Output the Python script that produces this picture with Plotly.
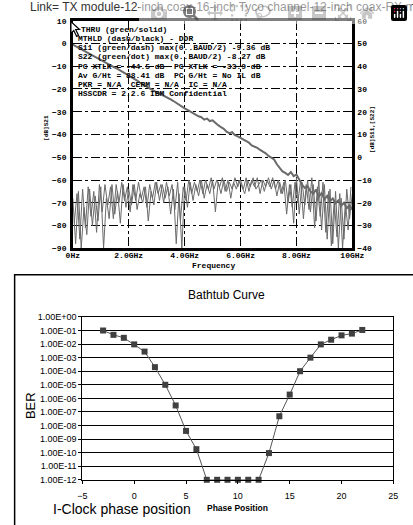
import numpy as np
import plotly.graph_objects as go

W, H = 413, 525

# ---------------- top chart data (S-parameters) ----------------
freq_s21 = np.round(np.arange(0, 10.01, 0.1), 2)
s21_db = [-0.5, -1.2, -1.8, -2.5, -3.3, -4.0, -4.6, -5.3, -5.9, -6.7,
          -7.3, -8.1, -8.7, -9.4, -9.9, -10.6, -11.2, -11.9, -12.6, -13.4,
          -14.2, -15.0, -15.7, -16.3, -17.2, -17.8, -18.6, -19.4, -20.2, -20.8,
          -21.5, -22.0, -22.6, -23.1, -23.8, -24.6, -25.3, -26.2, -27.0, -27.8,
          -28.5, -29.2, -29.9, -30.6, -31.5, -32.0, -32.4, -33.5, -33.0, -34.1,
          -33.8, -35.0, -35.9, -36.8, -37.5, -38.8, -39.4, -39.0, -40.3, -40.8,
          -41.5, -42.4, -43.0, -43.6, -44.8, -45.2, -45.9, -46.8, -47.5, -48.3,
          -49.4, -50.2, -51.0, -53.1, -54.6, -56.2, -56.9, -57.8, -56.5, -58.3,
          -57.6, -60.1, -62.0, -63.5, -62.8, -64.9, -66.0, -64.2, -67.3, -65.8,
          -68.5, -67.0, -69.4, -68.1, -70.2, -69.0, -71.3, -70.0, -72.4, -71.1,
          -73.0]

freq_s11 = np.round(np.arange(0, 10.01, 0.1), 2)
s11_db = [-18, -38, -15, -40, -22, -34, -14, -30, -17, -28,
          -13, -40, -18, -27, -12, -25, -15, -29, -12, -22,
          -14, -21, -12, -23, -16, -20, -13, -28, -15, -21,
          -11, -19, -12, -18, -13, -25, -14, -38, -16, -40,
          -13, -22, -11, -19, -12, -17, -10, -18, -12, -16,
          -10, -24, -11, -16, -10, -15, -11, -14, -9, -13,
          -10, -14, -9, -15, -10, -13, -9, -16, -10, -13,
          -9, -14, -10, -17, -11, -16, -10, -20, -12, -29,
          -9, -25, -11, -21, -10, -24, -12, -28, -10, -32,
          -12, -36, -14, -38, -15, -40, -18, -36, -14, -27,
          -16]

freq_s22 = np.round(np.arange(0.05, 10.0, 0.1), 2)
s22_db = [-29, -16, -36, -14, -31, -13, -26, -15, -33, -12,
          -24, -12, -21, -13, -27, -12, -20, -11, -19, -13,
          -24, -12, -19, -11, -18, -13, -22, -12, -18, -11,
          -16, -12, -20, -11, -17, -12, -23, -11, -28, -13,
          -19, -10, -16, -11, -15, -10, -16, -10, -14, -9,
          -14, -10, -13, -9, -15, -10, -18, -11, -14, -10,
          -13, -16, -10, -13, -9, -14, -12, -10, -15, -10,
          -13, -9, -14, -10, -16, -11, -25, -12, -22, -11,
          -20, -10, -27, -12, -23, -9, -31, -13, -26, -11,
          -33, -15, -39, -19, -35, -16, -40, -20, -32, -13]

freq_tickvals = [0, 2, 4, 6, 8, 10]
freq_ticktext = ["0Hz", "2.0GHz", "4.0GHz", "6.0GHz", "8.0GHz", "10GHz"]
left_ticks = [10, 0, -10, -20, -30, -40, -50, -60, -70, -80, -90]
right_ticks = [60, 50, 40, 30, 20, 10, 0, -10, -20, -30, -40]

legend_lines = [
    "THRU (green/solid)",
    "MTHLD (dash/black) - DDR",
    "S11 (green/dash) max(0..BAUD/2) -9.36 dB",
    "S22 (green/dot) max(0..BAUD/2) -8.27 dB",
    "PC XTLK = -44.5 dB  PC XTLK = -33.9 dB",
    "Av G/Ht = 88.41 dB  PC G/Ht = No IL dB",
    "PKR = N/A  CERM = N/A  IC = N/A",
    "HSSCDR = 2.2.6 IBM Confidential",
]

# ---------------- bottom chart data (bathtub) ----------------
phase = [-3, -2, -1, 0, 1, 2, 3, 4, 5, 6, 7, 8, 9, 10, 11, 12,
         13, 14, 15, 16, 17, 18, 19, 20, 21, 22]
ber = [1.0e-1, 4.8e-2, 2.9e-2, 9.5e-3, 2.8e-3, 2.0e-4, 1.0e-5, 3.0e-7,
       4.0e-9, 1.8e-10, 1e-12, 1e-12, 1e-12, 1e-12, 1e-12, 1e-12,
       9.3e-11, 4.8e-8, 1.9e-6, 1.0e-4, 1.0e-3, 9.5e-3, 2.1e-2, 4.4e-2,
       5.9e-2, 1.1e-1]
ber_tickvals = [1e0, 1e-1, 1e-2, 1e-3, 1e-4, 1e-5, 1e-6, 1e-7, 1e-8,
                1e-9, 1e-10, 1e-11, 1e-12]
ber_ticktext = ["1.00E+00", "1.00E-01", "1.00E-02", "1.00E-03", "1.00E-04",
                "1.00E-05", "1.00E-06", "1.00E-07", "1.00E-08", "1.00E-09",
                "1.00E-10", "1.00E-11", "1.00E-12"]
phase_ticks = [-5, 0, 5, 10, 15, 20, 25]


def px(x):
    return x / W


def py(y):
    return 1 - y / H


MONO = "Liberation Mono"
SANS = "Liberation Sans"

fig = go.Figure()

# noise traces (right axis)
fig.add_trace(go.Scatter(x=freq_s11, y=s11_db, mode="lines",
                         line=dict(color="#6a6a6a", width=1),
                         xaxis="x", yaxis="y2", showlegend=False))
fig.add_trace(go.Scatter(x=freq_s22, y=s22_db, mode="lines",
                         line=dict(color="#6a6a6a", width=1),
                         xaxis="x", yaxis="y2", showlegend=False))
# S21 (left axis)
fig.add_trace(go.Scatter(x=freq_s21, y=s21_db, mode="lines",
                         line=dict(color="#6a6a6a", width=2),
                         xaxis="x", yaxis="y", showlegend=False))

# bathtub
fig.add_trace(go.Scatter(x=phase, y=ber, mode="lines+markers",
                         line=dict(color="#555555", width=1),
                         marker=dict(symbol="square", size=6, color="#404040",
                                     line=dict(color="#404040", width=0)),
                         cliponaxis=False,
                         xaxis="x3", yaxis="y3", showlegend=False))

tick_font_top = dict(family=MONO, size=8, color="black", weight="bold")

fig.update_layout(
    width=W, height=H,
    margin=dict(l=0, r=0, t=0, b=0),
    paper_bgcolor="white", plot_bgcolor="white",
    xaxis=dict(domain=[px(69), px(362)], range=[0, 10], anchor="y",
               tickvals=freq_tickvals, ticktext=freq_ticktext,
               tickfont=tick_font_top, ticks="", ticklabelstandoff=-3,
               showgrid=True, gridcolor="black", gridwidth=1, griddash="dashdot",
               showline=True, linecolor="black", linewidth=2.5, mirror=True,
               zeroline=False),
    yaxis=dict(domain=[py(248), py(16)], range=[-90, 10], anchor="x",
               tickvals=left_ticks, tickfont=tick_font_top, ticks="",
               ticklabelstandoff=2,
               showgrid=True, gridcolor="black", gridwidth=1, griddash="dashdot",
               showline=True, linecolor="black", linewidth=2.5, mirror=True,
               zeroline=False),
    yaxis2=dict(range=[-40, 60], overlaying="y", side="right", anchor="x",
                tickvals=right_ticks, tickfont=tick_font_top, ticks="",
                ticklabelstandoff=4, showgrid=False, zeroline=False,
                showline=False),
    xaxis3=dict(domain=[px(79), px(405)], range=[-5, 25], anchor="y3",
                tickvals=phase_ticks,
                tickfont=dict(family=SANS, size=9, color="black"),
                ticks="outside", ticklen=3, tickcolor="black",
                ticklabelstandoff=4,
                showgrid=False, zeroline=False,
                showline=True, linecolor="black", linewidth=1, mirror=True),
    yaxis3=dict(domain=[py(484), py(318)], type="log", range=[-12, 0],
                anchor="x3", tickvals=ber_tickvals, ticktext=ber_ticktext,
                tickfont=dict(family=SANS, size=9, color="black"),
                ticks="outside", ticklen=3, tickcolor="black",
                showgrid=True, gridcolor="black", gridwidth=1,
                zeroline=False,
                showline=True, linecolor="black", linewidth=1, mirror=True),
)

annotations = []
# clipped title line at the very top
annotations.append(dict(xref="paper", yref="paper", x=px(22), y=py(2.5),
                        xanchor="left", yanchor="middle", showarrow=False,
                        text="Link= TX module-12-inch coax-16-inch Tyco channel-12-inch coax-RX module",
                        font=dict(family=SANS, size=12, color="#333333")))
# legend text block inside top plot
for i, line in enumerate(legend_lines):
    annotations.append(dict(xref="paper", yref="paper",
                            x=px(72 if i else 75), y=py(25 + i * 9.3),
                            xanchor="left", yanchor="middle", showarrow=False,
                            text=line,
                            font=dict(family=MONO, size=8, color="black",
                                      weight="bold")))
annotations.append(dict(xref="paper", yref="paper", x=px(216), y=py(266),
                        xanchor="center", yanchor="middle", showarrow=False,
                        text="Frequency",
                        font=dict(family=MONO, size=8, color="black", weight="bold")))
annotations.append(dict(xref="paper", yref="paper", x=px(42), y=py(125),
                        xanchor="center", yanchor="middle", showarrow=False,
                        textangle=-90, text="[dB]S21",
                        font=dict(family=MONO, size=6, color="black", weight="bold")))
annotations.append(dict(xref="paper", yref="paper", x=px(383), y=py(127),
                        xanchor="center", yanchor="middle", showarrow=False,
                        textangle=-90, text="[dB]S11,[S22]",
                        font=dict(family=MONO, size=6, color="black", weight="bold")))
# bottom chart texts
annotations.append(dict(xref="paper", yref="paper", x=px(230), y=py(296),
                        xanchor="center", yanchor="middle", showarrow=False,
                        text="Bathtub Curve",
                        font=dict(family=SANS, size=12, color="black")))
annotations.append(dict(xref="paper", yref="paper", x=px(24), y=py(408),
                        xanchor="center", yanchor="middle", showarrow=False,
                        textangle=-90, text="BER",
                        font=dict(family=SANS, size=13, color="black")))
annotations.append(dict(xref="paper", yref="paper", x=px(121), y=py(514),
                        xanchor="center", yanchor="middle", showarrow=False,
                        text="I-Clock phase position",
                        font=dict(family=SANS, size=14, color="black")))
annotations.append(dict(xref="paper", yref="paper", x=px(242), y=py(513),
                        xanchor="center", yanchor="middle", showarrow=False,
                        text="Phase Position",
                        font=dict(family=SANS, size=8.5, color="black", weight="bold")))
fig.update_layout(annotations=annotations)

# outer frame of the bathtub chart (extends past the window edges)
fig.add_shape(type="path", xref="paper", yref="paper",
              path=f"M {px(8)},{py(540)} L {px(8)},{py(275)} L {px(430)},{py(275)}",
              line=dict(color="black", width=1.5))
# mouse cursor arrow near the top-left of the upper plot
fig.add_shape(type="path", xref="paper", yref="paper",
              path=(f"M {px(67)},{py(17)} L {px(67)},{py(29)} L {px(70)},{py(26)} "
                    f"L {px(73)},{py(32)} L {px(75)},{py(31)} L {px(72)},{py(25)} "
                    f"L {px(76)},{py(25)} Z"),
              fillcolor="white", line=dict(color="black", width=1.2))

fig.write_html("out.html",
               post_script="document.body.style.margin='0';document.body.style.overflow='hidden';")
